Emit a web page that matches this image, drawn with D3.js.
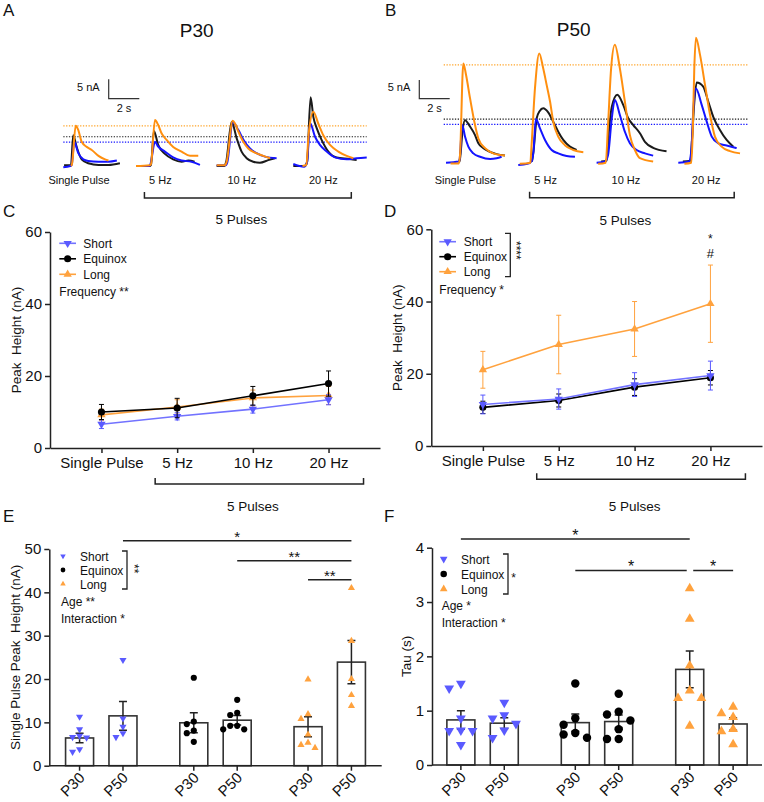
<!DOCTYPE html>
<html lang="en">
<head>
<meta charset="UTF-8">
<title>Peak height and tau</title>
<style>
  body { margin: 0; background: #fff; }
  svg text { font-family: Arial, "Liberation Sans", Helvetica, sans-serif; fill: #111; }
</style>
</head>
<body>
<svg width="764" height="802"></svg>
<script src="https://cdn.jsdelivr.net/npm/d3@7"></script>
<script>
// ---------- data ----------
var categories = ["Single Pulse", "5 Hz", "10 Hz", "20 Hz"];
var groups = ["Short", "Equinox", "Long"];
var ages = ["P30", "P50"];

// example traces, [time (s), current (nA)]
var traceP30SinglePulse = {
  short: [[0,-0.3],[0.45,0],[0.55,0.3],[0.72,6.2],[0.98,3.3],[1.31,1.7],[1.63,1.3],[2.3,1.1],[2.95,1.1],[3.5,1.4]],
  equinox: [[0.05,0.2],[0.5,0.2],[0.65,7.9],[0.87,4.9],[1.2,1.7],[1.63,0.7],[2.3,0.25],[2.95,0.25],[3.7,0.7]],
  long: [[0.5,0],[0.57,0.5],[0.81,10.3],[0.98,9.2],[1.2,6.2],[1.53,4.9],[1.86,4.1],[2.3,2.6],[2.73,1.7],[2.95,1.4]]
};
var traceP30Hz5 = {
  short: [[-0.26,0],[0.57,0],[0.67,0.3],[0.98,6.2],[1.19,5.0],[1.63,3.7],[2.17,2.2],[2.72,1.4],[3.37,1.1],[3.92,0.3]],
  equinox: [[-0.26,0],[0.62,0],[0.72,0.3],[0.91,9.0],[1.19,5.4],[1.63,3.1],[2.17,1.7],[2.72,1.1],[3.17,1.4],[3.57,1.1]],
  long: [[-0.26,0],[0.65,0.2],[0.72,0.5],[0.98,11.8],[1.19,10.5],[1.41,8.4],[1.74,6.7],[2.17,4.9],[2.72,3.7],[3.27,2.6],[3.81,2.6]]
};
var traceP30Hz10 = {
  short: [[0,0.2],[0.6,0.2],[0.7,1],[1.05,11.3],[1.42,9.2],[1.74,6.8],[2.18,4.5],[2.61,3.3],[3.16,2.4],[3.92,2.0]],
  equinox: [[0,0],[0.5,0],[0.62,1],[0.98,11.3],[1.31,7.1],[1.63,3.7],[1.96,2.0],[2.39,1.1],[2.83,0.85],[3.37,1.5],[3.81,2.0]],
  long: [[0,0.2],[0.54,0.2],[0.65,1],[1.05,11.6],[1.2,10.9],[1.42,8.8],[1.74,6.2],[2.07,4.5],[2.5,3.4],[3.05,2.6],[3.49,2.0]]
};
var traceP30Hz20 = {
  short: [[0,0.5],[0.7,-0.2],[0.9,1],[1.09,11],[1.42,7.5],[1.74,5.4],[2.18,3.7],[2.72,2.2],[3.49,1.7],[4.14,2.0],[4.8,2.2]],
  equinox: [[0,0],[0.75,0],[0.9,1],[1.13,17.6],[1.31,12.6],[1.53,9.7],[1.85,6.7],[2.29,3.7],[2.83,2.2],[3.7,1.8],[4.14,1.5]],
  long: [[0.6,0],[0.85,0.3],[1.0,8],[1.31,13.9],[1.63,10.9],[1.96,7.9],[2.4,5.4],[2.94,3.7],[3.49,2.6],[3.92,2.0]]
};
var traceP50SinglePulse = {
  short: [[0,0],[0.85,0.3],[0.9,1],[1.07,10.1],[1.25,7.0],[1.47,4.3],[1.8,2.5],[2.24,1.6],[2.9,1.0],[3.33,1.2],[3.66,1.6]],
  equinox: [[0.85,0],[0.92,1],[1.1,9],[1.25,11.4],[1.58,9.7],[1.91,7.4],[2.13,5.2],[2.46,3.9],[2.9,2.9],[3.33,2.3],[3.88,1.9]],
  long: [[0.3,-0.2],[0.85,-0.2],[0.92,2],[1.14,26.6],[1.32,23.5],[1.58,17.3],[1.91,10.1],[2.13,6.5],[2.57,3.9],[3.11,2.5],[3.88,1.9]]
};
var traceP50Hz5 = {
  short: [[-0.34,-0.6],[0.26,-0.3],[0.56,0.5],[0.66,3],[0.82,11.7],[1.09,9.2],[1.42,6.1],[1.86,3.4],[2.29,2.5],[2.84,1.8],[3.39,1.6]],
  equinox: [[0.56,0.3],[0.66,3],[0.87,11.9],[1.06,13.8],[1.3,14.6],[1.63,13.5],[1.96,11.0],[2.29,8.3],[2.62,6.1],[3.06,4.3],[3.5,3.4]],
  long: [[-0.24,-0.3],[0.46,0],[0.51,3],[0.76,20],[1.04,29.3],[1.3,25.3],[1.53,20.8],[1.75,16.4],[1.96,11.0],[2.29,7.0],[2.73,4.7],[3.28,3.4],[3.94,2.8]]
};
var traceP50Hz10 = {
  short: [[-0.28,0],[0.27,0.3],[0.47,2],[0.72,12],[0.92,16.8],[1.25,12.8],[1.58,8.3],[1.91,5.2],[2.35,3.4],[2.9,2.5],[3.44,1.9]],
  equinox: [[0.02,0.3],[0.37,0.5],[0.52,8],[0.72,15],[1.08,18.2],[1.47,15.5],[1.8,11.9],[2.13,10.1],[2.57,7.9],[2.9,5.6],[3.44,4.0],[4.32,3.1]],
  long: [[-0.18,-0.3],[0.32,0],[0.47,10],[0.67,25],[0.92,31.6],[1.25,25.3],[1.58,16.4],[1.91,7.4],[2.24,3.4],[2.57,1.2],[3.44,0.3]]
};
var traceP50Hz20 = {
  short: [[0,0],[0.7,0.3],[0.85,3],[1.0,15],[1.16,19.9],[1.54,15.5],[1.87,11.0],[2.2,7.0],[2.63,5.2],[3.18,4.6],[3.84,3.9]],
  equinox: [[0.3,0.3],[0.8,0.5],[0.9,6],[1.05,16],[1.21,21.5],[1.64,20.4],[1.97,16.4],[2.3,12.3],[2.74,8.8],[3.18,6.1],[3.62,4.3]],
  long: [[0.4,-0.3],[0.85,0],[0.95,8],[1.05,25],[1.16,33.5],[1.43,28.9],[1.76,20.8],[2.09,12.8],[2.41,7.0],[2.85,4.3],[3.4,3.1],[4.06,2.5]]
};
// single pulse peak references (nA): short, equinox, long
var refP30 = [6.1, 7.5, 10.3];
var refP50 = [10.3, 11.7, 26.2];

// C / D: peak height (nA), mean and SEM per stimulus
var p30Short = [6.6, 8.8, 10.8, 13.4];
var p30ShortErr = [1.2, 1.0, 1.1, 1.4];
var p30Equinox = [10.0, 11.1, 14.5, 17.9];
var p30EquinoxErr = [2.1, 2.7, 2.6, 3.5];
var p30Long = [9.2, 11.4, 13.9, 14.6];
var p30LongErr = [1.6, 2.0, 2.2, 2.5];

var p50Short = [11.5, 13.0, 17.0, 19.5];
var p50ShortErr = [2.6, 2.8, 3.3, 4.0];
var p50Equinox = [10.7, 12.6, 16.3, 18.9];
var p50EquinoxErr = [1.7, 1.8, 2.3, 2.0];
var p50Long = [21.1, 28.1, 32.4, 39.4];
var p50LongErr = [5.1, 8.1, 7.6, 10.7];

// E: single pulse peak height (nA); means/SEM ordered short, equinox, long
var spMeanP30 = [6.4, 9.9, 9.0];
var spMeanP50 = [11.5, 10.5, 23.9];
var spSemP30 = [1.1, 2.3, 2.3];
var spSemP50 = [3.3, 1.1, 5.0];
var spShortP30 = [11.3, 8.4, 6.9, 6.6, 6.5, 3.8, 3.2];
var spShortP50 = [24.4, 10.9, 9.0, 7.5, 6.6];
var spEquinoxP30 = [20.3, 10.2, 9.6, 8.1, 7.5, 5.5];
var spEquinoxP50 = [15.2, 12.2, 11.7, 9.2, 9.2, 8.4, 8.4];
var spLongP30 = [19.9, 11.9, 10.8, 7.2, 5.3, 4.8, 4.1];
var spLongP50 = [41.0, 28.8, 20.0, 16.3, 13.8];

// F: tau (s)
var tauMeanP30 = [0.83, 0.78, 1.76];
var tauMeanP50 = [0.77, 0.80, 0.755];
var tauSemP30 = [0.17, 0.16, 0.34];
var tauSemP50 = [0.10, 0.12, 0.115];
var tauShortP30 = [1.50, 1.41, 0.86, 0.64, 0.63, 0.63, 0.37];
var tauShortP50 = [1.15, 0.92, 0.86, 0.76, 0.64, 0.50];
var tauEquinoxP30 = [1.50, 0.86, 0.74, 0.59, 0.56, 0.50];
var tauEquinoxP50 = [1.31, 0.98, 0.93, 0.82, 0.66, 0.48, 0.48];
var tauLongP30 = [3.25, 2.69, 1.83, 1.37, 1.23, 1.23, 0.72];
var tauLongP50 = [1.07, 0.95, 0.88, 0.66, 0.62, 0.38];

// ---------- drawing ----------
var svg = d3.select("svg");
var colShort = "#5a5aff", colEquinox = "#000", colLong = "#ffa23e";
var trShort = "#1414ff", trEquinox = "#1b1b1b", trLong = "#ff8f0f";
var groupColor = { Short: colShort, Equinox: colEquinox, Long: colLong };

function label(x, y, s, size, anchor) {
  return svg.append("text").attr("x", x).attr("y", y).attr("font-size", size)
    .attr("text-anchor", anchor || "start").text(s);
}
function marker(name, size) {
  return d3.symbol(name === "Equinox" ? d3.symbolCircle : d3.symbolTriangle, size)();
}
function markerTransform(name, x, y) {
  return "translate(" + x + "," + y + ")" + (name === "Short" ? " rotate(180)" : "");
}
function styleAxis(sel) {
  sel.select(".domain").attr("stroke", "#222").attr("stroke-width", 1.5);
  sel.selectAll(".tick line").attr("stroke", "#222").attr("stroke-width", 1.5);
  sel.selectAll(".tick text").attr("font-size", 15).attr("fill", "#111")
    .attr("font-family", "Arial, 'Liberation Sans', sans-serif");
}
function bracket(x0, x1, y, up) {
  svg.append("path").attr("fill", "none").attr("stroke", "#222").attr("stroke-width", 1.5)
    .attr("d", "M" + x0 + "," + (y - up) + "V" + y + "H" + x1 + "V" + (y - up));
}

label(3, 15.5, "A", 17); label(385, 15.5, "B", 17);
label(3, 217, "C", 17); label(384, 217, "D", 17);
label(3, 522, "E", 17); label(384, 522, "F", 17);
label(196.7, 36.5, "P30", 19, "middle");
label(573.7, 36, "P50", 19, "middle");

// A / B traces
function tracePanel(o) {
  var g = svg.append("g");
  var pos = d3.scalePoint().domain(categories).range(o.startRange);
  var labelPos = d3.scalePoint().domain(categories).range(o.labelRange);
  var y = d3.scaleLinear().domain([0, 1]).range([o.base, o.base - o.pxNA]);
  var cols = [trShort, trEquinox, o.refLong];
  g.selectAll("line.ref").data(o.ref).join("line")
    .attr("x1", o.refX[0]).attr("x2", o.refX[1])
    .attr("y1", function(d) { return y(d); }).attr("y2", function(d) { return y(d); })
    .attr("stroke", function(d, i) { return cols[i]; })
    .attr("stroke-width", 1.2).attr("stroke-dasharray", "1.3,1.5");
  categories.forEach(function(c, i) {
    var x = d3.scaleLinear().domain([0, 1]).range([pos(c), pos(c) + o.pxS]);
    var line = d3.line().curve(d3.curveMonotoneX)
      .x(function(d) { return x(d[0]); }).y(function(d) { return y(d[1]); });
    var tr = o.traces[i];
    [["equinox", trEquinox], ["short", trShort], ["long", trLong]].forEach(function(p) {
      g.append("path").attr("d", line(tr[p[0]])).attr("fill", "none")
        .attr("stroke", p[1]).attr("stroke-width", 2).attr("stroke-linejoin", "round");
    });
    label(labelPos(c), 184, c, 11, "middle");
  });
  // scale bar
  var sbx = d3.scaleLinear().domain([0, 2]).range([o.sb[0], o.sb[0] + 2 * o.pxS]);
  var sby = d3.scaleLinear().domain([0, 5]).range([o.sb[1], o.sb[1] - 5 * o.pxNA]);
  g.append("path").attr("fill", "none").attr("stroke", "#333").attr("stroke-width", 1.2)
    .attr("d", "M" + sbx(0) + "," + sby(5) + "V" + sby(0) + "H" + sbx(2));
  label(sbx(0) - 9, sby(0) - 7.5, "5 nA", 11, "end");
  label(sbx(1), sby(0) + 13, "2 s", 11, "middle");
  var b0 = labelPos("5 Hz") - 16, b1 = labelPos("20 Hz") + 28;
  bracket(b0, b1, o.brY, 6);
  label((b0 + b1) / 2 - 6.5, o.pulsesY, "5 Pulses", 13.5, "middle");
}
tracePanel({
  startRange: [63.3, 293.3], labelRange: [79, 323.3], base: 166, pxNA: 3.9, pxS: 15.3,
  ref: refP30, refX: [63.3, 366.7], refLong: "#ffa52a",
  traces: [traceP30SinglePulse, traceP30Hz5, traceP30Hz10, traceP30Hz20],
  sb: [108.7, 98.7], brY: 198, pulsesY: 224
});
tracePanel({
  startRange: [446, 678.3], labelRange: [465.3, 706.2], base: 162.7, pxNA: 3.73, pxS: 15.2,
  ref: refP50, refX: [443.7, 748.7], refLong: "#ffa52a",
  traces: [traceP50SinglePulse, traceP50Hz5, traceP50Hz10, traceP50Hz20],
  sb: [419.3, 98.7], brY: 197.7, pulsesY: 225
});

// C / D line charts
function linePanel(o) {
  var g = svg.append("g");
  var x = d3.scalePoint().domain(categories).range(o.xr).padding(0.68);
  var y = d3.scaleLinear().domain([0, 60]).range(o.yr);
  g.append("g").attr("transform", "translate(0," + o.yr[0] + ")")
    .call(d3.axisBottom(x).tickSize(5).tickSizeOuter(0).tickPadding(4)).call(styleAxis);
  g.append("g").attr("transform", "translate(" + o.xr[0] + ",0)")
    .call(d3.axisLeft(y).tickValues([0, 20, 40, 60]).tickSize(5).tickSizeOuter(0).tickPadding(3)).call(styleAxis);
  svg.append("text").attr("transform", "translate(" + o.titleX + "," + (o.yr[0] + o.yr[1]) / 2 + ") rotate(-90)")
    .attr("text-anchor", "middle").attr("font-size", 13.5).style("white-space", "pre").text("Peak  Height (nA)");

  o.series.forEach(function(s) {
    var pts = categories.map(function(c, i) { return { c: c, v: s.vals[i], e: s.errs[i] }; });
    var eb = g.append("g").attr("stroke", s.color).attr("stroke-width", 1);
    eb.selectAll("line.v").data(pts).join("line")
      .attr("x1", function(d) { return x(d.c); }).attr("x2", function(d) { return x(d.c); })
      .attr("y1", function(d) { return y(d.v - d.e); }).attr("y2", function(d) { return y(d.v + d.e); });
    eb.selectAll("path").data(pts).join("path").attr("fill", "none")
      .attr("d", function(d) {
        return "M" + (x(d.c) - 2.5) + "," + y(d.v + d.e) + "h5M" + (x(d.c) - 2.5) + "," + y(d.v - d.e) + "h5";
      });
    g.append("path").datum(pts).attr("fill", "none").attr("stroke", s.line).attr("stroke-width", 1.6)
      .attr("d", d3.line().x(function(d) { return x(d.c); }).y(function(d) { return y(d.v); }));
    g.selectAll(null).data(pts).join("path").attr("d", marker(s.name, s.name === "Equinox" ? 40 : 30))
      .attr("transform", function(d) { return markerTransform(s.name, x(d.c), y(d.v)); })
      .attr("fill", s.color);
  });

  var ly = d3.scalePoint().domain(groups).range(o.legY);
  o.series.forEach(function(s) {
    g.append("line").attr("x1", o.legX[0]).attr("x2", o.legX[1]).attr("y1", ly(s.name)).attr("y2", ly(s.name))
      .attr("stroke", s.line).attr("stroke-width", 1.6);
    g.append("path").attr("d", marker(s.name, s.name === "Equinox" ? 40 : 30))
      .attr("transform", markerTransform(s.name, (o.legX[0] + o.legX[1]) / 2, ly(s.name))).attr("fill", s.color);
    label(o.legText, ly(s.name) + 4.5, s.name, 12);
  });
  label(o.legX[0], o.freqY, o.freq, 12);

  var b0 = x("5 Hz") - 22, b1 = x("20 Hz") + 35;
  bracket(b0, b1, o.brY, 6);
  label((b0 + b1) / 2 - 6.5, 511, "5 Pulses", 13.5, "middle");
  return { x: x, y: y };
}

linePanel({
  xr: [50, 380], yr: [448, 232], titleX: 21,
  series: [
    { name: "Long", vals: p30Long, errs: p30LongErr, color: colLong, line: colLong },
    { name: "Short", vals: p30Short, errs: p30ShortErr, color: colShort, line: "#7272ff" },
    { name: "Equinox", vals: p30Equinox, errs: p30EquinoxErr, color: colEquinox, line: colEquinox }
  ],
  legX: [59.3, 76], legText: 83.3, legY: [243.3, 274.3], freq: "Frequency **", freqY: 295.7, brY: 484
});
var dScales = linePanel({
  xr: [431.3, 762], yr: [446, 229.3], titleX: 402,
  series: [
    { name: "Long", vals: p50Long, errs: p50LongErr, color: colLong, line: colLong },
    { name: "Equinox", vals: p50Equinox, errs: p50EquinoxErr, color: colEquinox, line: colEquinox },
    { name: "Short", vals: p50Short, errs: p50ShortErr, color: colShort, line: "#7272ff" }
  ],
  legX: [439.3, 456], legText: 463.7, legY: [241.7, 271.7], freq: "Frequency *", freqY: 293.7, brY: 479.3
});
// D annotations
svg.append("path").attr("fill", "none").attr("stroke", "#222").attr("stroke-width", 1.3)
  .attr("d", "M505,233.3H510.3V276.7H505");
svg.append("text").attr("transform", "translate(512,241) rotate(90)").attr("font-size", 12).text("****");
label(dScales.x("20 Hz"), 243, "*", 12, "middle");
label(dScales.x("20 Hz"), 257.5, "#", 13, "middle");

// E / F bar + scatter
function swarm(vals, y, diam, step) {
  var placed = [];
  vals.slice().sort(function(a, b) { return b - a; }).forEach(function(v) {
    var py = y(v), k = 0, dx = 0;
    for (var t = 0; t < 12; t++) {
      k = t === 0 ? 0 : (t % 2 ? -1 : 1) * Math.ceil(t / 2);
      dx = k * step;
      var hit = placed.some(function(p) {
        return (p.dx - dx) * (p.dx - dx) + (p.py - py) * (p.py - py) < diam * diam;
      });
      if (!hit) break;
    }
    placed.push({ v: v, dx: dx, py: py });
  });
  return placed;
}

function barPanel(o) {
  var g = svg.append("g");
  var gx = d3.scalePoint().domain(groups).range(o.xr).padding(o.pad);
  var ax = d3.scalePoint().domain(ages).range([-21.7, 21.7]);
  var y = d3.scaleLinear().domain([0, o.max]).range(o.yr);
  var cells = [];
  groups.forEach(function(gr, gi) {
    ages.forEach(function(a, ai) {
      cells.push({ g: gr, a: a, cx: gx(gr) + ax(a), mean: o.means[ai][gi], sem: o.sems[ai][gi], pts: o.points[gi][ai] });
    });
  });
  var bw = 28;
  g.selectAll("rect").data(cells).join("rect")
    .attr("x", function(d) { return d.cx - bw / 2; }).attr("width", bw)
    .attr("y", function(d) { return y(d.mean); }).attr("height", function(d) { return y(0) - y(d.mean); })
    .attr("fill", "#fff").attr("stroke", "#333").attr("stroke-width", 1.6);
  var eb = g.append("g").attr("stroke", "#222").attr("stroke-width", 1.5).attr("fill", "none");
  eb.selectAll("path").data(cells).join("path").attr("d", function(d) {
    var t = y(d.mean + d.sem), b = y(d.mean - d.sem);
    return "M" + d.cx + "," + t + "V" + b + "M" + (d.cx - 4) + "," + t + "h8M" + (d.cx - 4) + "," + b + "h8";
  });
  cells.forEach(function(c) {
    var pts = swarm(c.pts, y, o.diam, o.step);
    g.selectAll(null).data(pts).join("path")
      .attr("d", marker(c.g, c.g === "Equinox" ? o.circ : o.tri))
      .attr("transform", function(d) { return markerTransform(c.g, c.cx + d.dx, d.py); })
      .attr("fill", groupColor[c.g]);
  });
  // axes
  g.append("g").attr("transform", "translate(" + o.xr[0] + ",0)")
    .call(d3.axisLeft(y).ticks(o.ticks).tickSize(5).tickSizeOuter(0).tickPadding(3)).call(styleAxis);
  g.append("line").attr("x1", o.xr[0]).attr("x2", o.xr[1]).attr("y1", y(0)).attr("y2", y(0))
    .attr("stroke", "#222").attr("stroke-width", 1.5);
  g.selectAll("line.tk").data(cells).join("line")
    .attr("x1", function(d) { return d.cx; }).attr("x2", function(d) { return d.cx; })
    .attr("y1", y(0)).attr("y2", y(0) + 5).attr("stroke", "#222").attr("stroke-width", 1.5);
  g.selectAll("text.tk").data(cells).join("text")
    .attr("transform", function(d) { return "translate(" + (d.cx + 6) + "," + (y(0) + 13) + ") rotate(-45)"; })
    .attr("text-anchor", "end").attr("font-size", 15).text(function(d) { return d.a; });
  svg.append("text").attr("transform", "translate(" + o.titleX + "," + (o.yr[0] + o.yr[1]) / 2 + ") rotate(-90)")
    .attr("text-anchor", "middle").attr("font-size", 13.5).style("white-space", "pre").text(o.title);
  // legend
  var ly = d3.scalePoint().domain(groups).range(o.legY);
  groups.forEach(function(gr) {
    g.append("path").attr("d", marker(gr, gr === "Equinox" ? o.circ * 0.6 : o.tri * 0.6))
      .attr("transform", markerTransform(gr, o.legX, ly(gr))).attr("fill", groupColor[gr]);
    label(o.legText, ly(gr) + 4.5, gr, 12);
  });
  svg.append("path").attr("fill", "none").attr("stroke", "#222").attr("stroke-width", 1.3)
    .attr("d", "M" + (o.brX - 5) + "," + (o.legY[0] - 5) + "H" + o.brX + "V" + (o.legY[1] + 5) + "H" + (o.brX - 5));
  label(o.legX - 2, o.ageY, o.age, 12);
  label(o.legX - 2, o.ageY + 16.5, "Interaction *", 12);
  // significance
  o.sig.forEach(function(s) {
    var x0 = gx(s.from[0]) + ax(s.from[1]) + (s.pad0 || 0);
    var x1 = gx(s.to[0]) + ax(s.to[1]) - (s.pad1 || 0);
    g.append("line").attr("x1", x0).attr("x2", x1).attr("y1", y(s.at)).attr("y2", y(s.at))
      .attr("stroke", "#222").attr("stroke-width", 1.5);
    label((x0 + x1) / 2, y(s.at) + 1.5, s.mark, o.starSize, "middle");
  });
  return { y: y };
}

barPanel({
  xr: [49.3, 381.7], pad: 0.455, yr: [765.7, 549], max: 50, ticks: 5,
  means: [spMeanP30, spMeanP50], sems: [spSemP30, spSemP50],
  points: [[spShortP30, spShortP50], [spEquinoxP30, spEquinoxP50], [spLongP30, spLongP50]],
  diam: 6, step: 7, tri: 22, circ: 30,
  title: "Single Pulse Peak  Height (nA)", titleX: 20,
  legX: 63, legText: 80, legY: [556, 584], brX: 127, age: "Age **", ageY: 606,
  starSize: 15,
  sig: [
    { from: ["Short", "P50"], to: ["Long", "P50"], at: 51.9, mark: "*" },
    { from: ["Equinox", "P50"], to: ["Long", "P50"], at: 47.3, mark: "**" },
    { from: ["Long", "P30"], to: ["Long", "P50"], at: 42.9, mark: "**" }
  ]
});
svg.append("text").attr("transform", "translate(130,564) rotate(90)").attr("font-size", 12).text("**");

barPanel({
  xr: [432, 762], pad: 0.442, yr: [765, 547.7], max: 4, ticks: 4,
  means: [tauMeanP30, tauMeanP50], sems: [tauSemP30, tauSemP50],
  points: [[tauShortP30, tauShortP50], [tauEquinoxP30, tauEquinoxP50], [tauLongP30, tauLongP50]],
  diam: 9.5, step: 11.7, tri: 42, circ: 56,
  title: "Tau (s)", titleX: 411,
  legX: 443.7, legText: 461, legY: [559, 589], brX: 508, age: "Age *", ageY: 610,
  starSize: 16,
  sig: [
    { from: ["Short", "P30"], to: ["Long", "P30"], at: 4.16, mark: "*" },
    { from: ["Equinox", "P30"], to: ["Long", "P30"], at: 3.58, mark: "*", pad1: 3 },
    { from: ["Long", "P30"], to: ["Long", "P50"], at: 3.58, mark: "*", pad0: 3.5 }
  ]
});
label(513.5, 582, "*", 12, "middle");
</script>
</body>
</html>
